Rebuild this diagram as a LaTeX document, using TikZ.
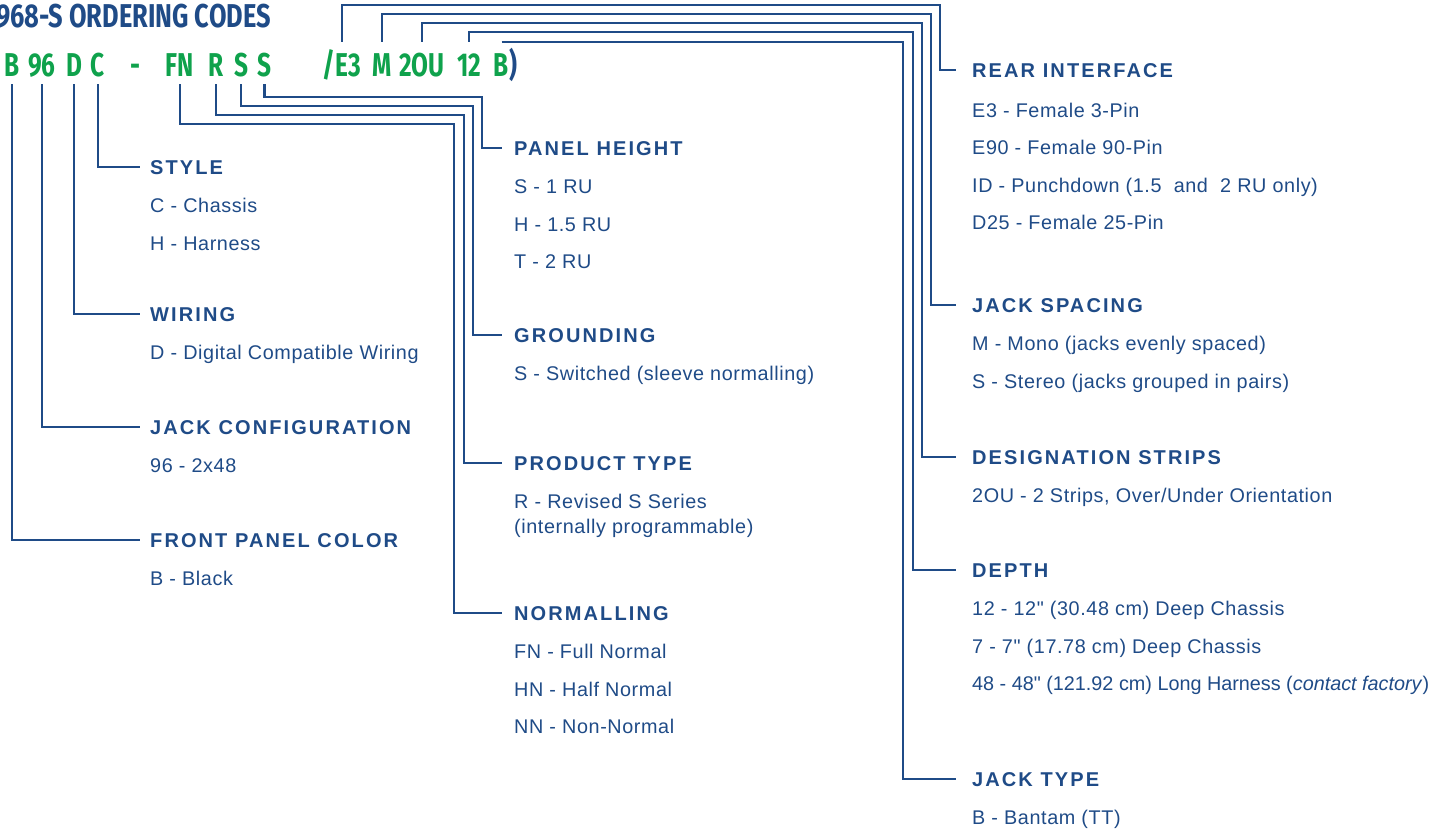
\documentclass[tikz,border=0pt]{standalone}
\usepackage{fontspec}
\usetikzlibrary{positioning}
\setmainfont{Liberation Sans}
\newfontfamily\codefont[FakeStretch=0.74]{Fira Sans}
\newfontfamily\titlefont[FakeStretch=0.77]{Fira Sans}
\newfontfamily\headfont[LetterSpace=10.5]{Liberation Sans}
\newfontfamily\itemfont[LetterSpace=3]{Liberation Sans}
\definecolor{codeblue}{HTML}{1F4B87}
\definecolor{codegreen}{HTML}{0FA24C}
\tikzset{
  code/.style={
    inner sep=0pt,
    anchor=base,
    text height=23pt,
    text depth=0pt,
    text=codegreen,
    font=\codefont\bfseries\fontsize{33}{33}\selectfont
  },
  head/.style={
    inner sep=0pt,
    anchor=base west,
    text=codeblue,
    font=\headfont\bfseries\fontsize{20}{24}\selectfont
  },
  item/.style={
    inner sep=0pt,
    anchor=base west,
    align=left,
    text=codeblue,
    font=\itemfont\fontsize{19.8}{37.6}\selectfont
  },
  lead/.style={
    draw=codeblue,
    line width=2.2pt
  }
}
\begin{document}
\begin{tikzpicture}[x=1pt,y=-1pt]
\useasboundingbox (0,0) rectangle (1440,828);
\node[code,text=codeblue,anchor=base east,font=\titlefont\bfseries\fontsize{33}{33}\selectfont] (title) at (271,27) {968-S ORDERING CODES};
\node[code] (cB) at (12,76) {B};
\node[code] (c96) at (42,76) {96};
\node[code] (cD) at (74,76) {D};
\node[code] (cC) at (98,76) {C};
\node[code] (cDash) at (135,76) {-};
\node[code] (cFN) at (180,76) {FN};
\node[code] (cR) at (216,76) {R};
\node[code] (cS) at (241,76) {S};
\node[code] (cSS) at (264.5,76) {S};
\node[code] (cE3) at (342,76) {/E3};
\node[code] (cM) at (382,76) {M};
\node[code] (cOU) at (422,76) {2OU};
\node[code] (cDp) at (469,76) {12};
\node[code] (cJT) at (501.5,76) {B};
\node[code,text=codeblue,anchor=base west] (cPar) at (cJT.base east) {)};

% left column
\node[head] (hStyle) at (150,174) {STYLE};
\node[item] (iStyle) at ([yshift=-76.1pt]hStyle.base west) {C - Chassis\\H - Harness};
\node[head] (hWire) at (150,321) {WIRING};
\node[item] (iWire) at ([yshift=-38.5pt]hWire.base west) {D - Digital Compatible Wiring};
\node[head] (hConf) at (150,434) {JACK CONFIGURATION};
\node[item] (iConf) at ([yshift=-38.5pt]hConf.base west) {96 - 2x48};
\node[head] (hColor) at (150,547) {FRONT PANEL COLOR};
\node[item] (iColor) at ([yshift=-38.5pt]hColor.base west) {B - Black};

% middle column
\node[head] (hPanel) at (514,155) {PANEL HEIGHT};
\node[item] (iPanel) at ([yshift=-113.7pt]hPanel.base west) {S - 1 RU\\H - 1.5 RU\\T - 2 RU};
\node[head] (hGround) at (514,342) {GROUNDING};
\node[item] (iGround) at ([yshift=-38.5pt]hGround.base west) {S - Switched (sleeve normalling)};
\node[head] (hProd) at (514,470) {PRODUCT TYPE};
\node[item] (iProd) at ([yshift=-63.5pt]hProd.base west) {R - Revised S Series\\[-12.6pt](internally programmable)};
\node[head] (hNorm) at (514,620) {NORMALLING};
\node[item] (iNorm) at ([yshift=-113.7pt]hNorm.base west) {FN - Full Normal\\HN - Half Normal\\NN - Non-Normal};

% right column
\node[head] (hRear) at (972,77) {REAR INTERFACE};
\node[item] (iRear) at ([yshift=-152.8pt]hRear.base west) {E3 - Female 3-Pin\\E90 - Female 90-Pin\\ID - Punchdown (1.5~ and~ 2 RU only)\\D25 - Female 25-Pin};
\node[head] (hSpace) at (972,312) {JACK SPACING};
\node[item] (iSpace) at ([yshift=-76.1pt]hSpace.base west) {M - Mono (jacks evenly spaced)\\S - Stereo (jacks grouped in pairs)};
\node[head] (hStrip) at (972,464) {DESIGNATION STRIPS};
\node[item] (iStrip) at ([yshift=-38.5pt]hStrip.base west) {2OU - 2 Strips, Over/Under Orientation};
\node[head] (hDepth) at (972,577) {DEPTH};
\node[item] (iDepth) at ([yshift=-113.7pt]hDepth.base west) {12 - 12" (30.48 cm) Deep Chassis\\7 - 7" (17.78 cm) Deep Chassis\\{\addfontfeature{LetterSpace=0}48 - 48" (121.92 cm) Long Harness (\textit{contact factory})}};
\node[head] (hType) at (972,786) {JACK TYPE};
\node[item] (iType) at ([yshift=-38.5pt]hType.base west) {B - Bantam (TT)};

% leaders, lower left
\draw[lead] ([yshift=-8pt]cC.south) |- ([xshift=-10pt]hStyle.west);
\draw[lead] ([yshift=-8pt]cD.south) |- ([xshift=-10pt]hWire.west);
\draw[lead] ([yshift=-8pt]c96.south) |- ([xshift=-10pt]hConf.west);
\draw[lead] ([yshift=-8pt]cB.south) |- ([xshift=-10pt]hColor.west);
% leaders, middle
\draw[lead] ([yshift=-8pt]cSS.south) |- (482,97) |- ([xshift=-12pt]hPanel.west);
\draw[lead] ([yshift=-8pt]cS.south) |- (473,106) |- ([xshift=-12pt]hGround.west);
\draw[lead] ([yshift=-8pt]cR.south) |- (464,115) |- ([xshift=-12pt]hProd.west);
\draw[lead] ([yshift=-8pt]cFN.south) |- (454,124) |- ([xshift=-12pt]hNorm.west);
% leaders, right
\draw[lead] ([yshift=11pt]cE3.north) |- (940,5) |- ([xshift=-16pt]hRear.west);
\draw[lead] ([yshift=11pt]cM.north) |- (931,14) |- ([xshift=-16pt]hSpace.west);
\draw[lead] ([yshift=11pt]cOU.north) |- (922,23) |- ([xshift=-16pt]hStrip.west);
\draw[lead] ([yshift=11pt]cDp.north) |- (913,32) |- ([xshift=-16pt]hDepth.west);
\draw[lead] ([yshift=11pt]cJT.north) -| ([xshift=-69pt]hType.west) -- ([xshift=-16pt]hType.west);
\end{tikzpicture}
\end{document}
